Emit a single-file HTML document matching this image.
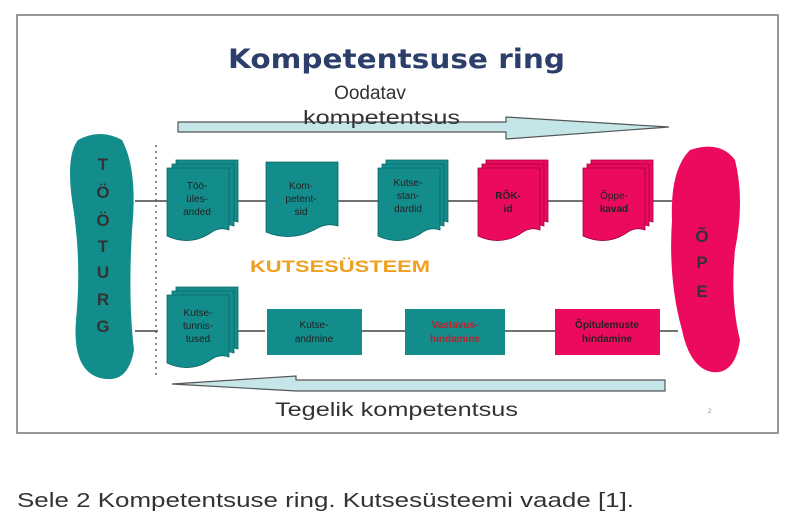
<!DOCTYPE html>
<html><head><meta charset="utf-8"><style>
body{margin:0;background:#fff;width:794px;height:524px;overflow:hidden}
</style></head><body>
<svg width="794" height="524" viewBox="0 0 794 524" xmlns="http://www.w3.org/2000/svg" font-family="Liberation Sans, sans-serif">
<defs>
<g id="doc"><path d="M0,0 h62 v62 q-10,-4 -20,4 q-20,12 -42,2 z"/></g>
</defs>
<rect x="17" y="15" width="761" height="418" fill="#fff" stroke="#777" stroke-width="1.5"/>
<text x="228" y="68" font-size="27" font-weight="bold" fill="#2c3e6a" font-family="DejaVu Sans, sans-serif" textLength="337" lengthAdjust="spacingAndGlyphs">Kompetentsuse ring</text>
<text x="370" y="99" text-anchor="middle" font-size="19" fill="#333">Oodatav</text>
<!-- top arrow -->
<path d="M178,122 H506 V117 L669,127 L506,139 V132 H178 Z" fill="#c4e6e8" stroke="#555" stroke-width="1.2"/>
<text x="303" y="124" font-size="19" fill="#333" textLength="157" lengthAdjust="spacingAndGlyphs">kompetentsus</text>
<!-- TÖÖTURG blob -->
<path d="M78,140 Q100,128 122,140 Q138,170 132,230 Q128,300 134,350 Q128,385 100,378 Q72,370 76,320 Q82,260 72,200 Q66,155 78,140 Z" fill="#138c8c"/>
<g font-size="17" font-weight="bold" fill="#333" text-anchor="middle">
<text x="103" y="170">T</text><text x="103" y="198">Ö</text><text x="103" y="226">Ö</text><text x="103" y="252">T</text><text x="103" y="278">U</text><text x="103" y="305">R</text><text x="103" y="332">G</text>
</g>
<line x1="156" y1="145" x2="156" y2="375" stroke="#666" stroke-dasharray="2,4" stroke-width="1.5"/>
<!-- ÕPE blob -->
<path d="M690,150 Q720,140 735,160 Q745,200 735,250 Q730,300 740,340 Q735,375 712,372 Q690,368 682,330 Q668,280 672,220 Q670,170 690,150 Z" fill="#ec0a5e"/>
<g font-size="17" font-weight="bold" fill="#333" text-anchor="middle">
<text x="702" y="242">Õ</text><text x="702" y="268">P</text><text x="702" y="297">E</text>
</g>
<g stroke="#444" stroke-width="1.5" fill="#444">
<line x1="135" y1="201" x2="168" y2="201"/>
<line x1="234" y1="201" x2="266" y2="201"/>
<line x1="338" y1="201" x2="378" y2="201"/>
<line x1="440" y1="201" x2="478" y2="201"/>
<line x1="540" y1="201" x2="583" y2="201"/>
<line x1="650" y1="201" x2="672" y2="201"/>
<line x1="158" y1="331" x2="135" y2="331"/>
<line x1="265" y1="331" x2="236" y2="331"/>
<line x1="405" y1="331" x2="362" y2="331"/>
<line x1="555" y1="331" x2="505" y2="331"/>
<line x1="678" y1="331" x2="660" y2="331"/>
</g>
<g fill="#138c8c" stroke="#0d6666" stroke-width="0.8">
<use href="#doc" x="176" y="160"/><use href="#doc" x="172" y="164"/><use href="#doc" x="167" y="168"/>
<path d="M266,162 h72 v64 q-12,-4 -24,4 q-24,12 -48,2 z"/>
<use href="#doc" x="386" y="160"/><use href="#doc" x="382" y="164"/><use href="#doc" x="378" y="168"/>
<use href="#doc" x="176" y="287"/><use href="#doc" x="172" y="291"/><use href="#doc" x="167" y="295"/>
</g>
<g fill="#ec0a5e" stroke="#a00040" stroke-width="0.8">
<use href="#doc" x="486" y="160"/><use href="#doc" x="482" y="164"/><use href="#doc" x="478" y="168"/>
<use href="#doc" x="591" y="160"/><use href="#doc" x="587" y="164"/><use href="#doc" x="583" y="168"/>
</g>
<g font-size="10" fill="#222" text-anchor="middle">
<text x="197" y="189">Töö-</text><text x="197" y="202">üles-</text><text x="197" y="215">anded</text>
<text x="301" y="189">Kom-</text><text x="301" y="202">petent-</text><text x="301" y="215">sid</text>
<text x="408" y="186">Kutse-</text><text x="408" y="199">stan-</text><text x="408" y="212">dardid</text>
<text x="508" y="199" font-weight="bold">RÕK-</text><text x="508" y="212" font-weight="bold">id</text>
<text x="614" y="199">Õppe-</text><text x="614" y="212" font-weight="bold">kavad</text>
<text x="198" y="316">Kutse-</text><text x="198" y="329">tunnis-</text><text x="198" y="342">tused</text>
</g>
<text x="250" y="272" font-size="17" font-weight="bold" fill="#f0a020" textLength="180" lengthAdjust="spacingAndGlyphs">KUTSESÜSTEEM</text>
<rect x="267" y="309" width="95" height="46" fill="#138c8c"/>
<rect x="405" y="309" width="100" height="46" fill="#138c8c"/>
<rect x="555" y="309" width="105" height="46" fill="#ec0a5e"/>
<g font-size="10" text-anchor="middle">
<text x="314" y="328" fill="#222">Kutse-</text><text x="314" y="342" fill="#222">andmine</text>
<text x="455" y="328" fill="#c0202a" font-weight="bold">Vastavus-</text><text x="455" y="342" fill="#c0202a" font-weight="bold">hindamine</text>
<text x="607" y="328" fill="#222" font-weight="bold">Õpitulemuste</text><text x="607" y="342" fill="#222" font-weight="bold">hindamine</text>
</g>
<path d="M665,380 H296 V376 L172,384 L296,391 V391 H665 Z" fill="#c4e6e8" stroke="#555" stroke-width="1.2"/>
<text x="275" y="416" font-size="19" fill="#333" textLength="243" lengthAdjust="spacingAndGlyphs">Tegelik kompetentsus</text>
<text x="708" y="413" font-size="6" fill="#888">2</text>
<text x="17" y="507" font-size="20" fill="#333" textLength="617" lengthAdjust="spacingAndGlyphs">Sele 2 Kompetentsuse ring. Kutsesüsteemi vaade [1].</text>
</svg>
</body></html>
